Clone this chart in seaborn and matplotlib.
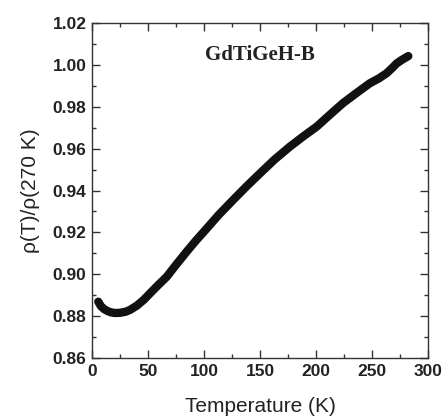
import matplotlib
matplotlib.use("Agg")
import matplotlib.pyplot as plt
import seaborn as sns
import pandas as pd
from matplotlib.ticker import MultipleLocator

sns.set_style("ticks")
plt.rcParams['font.family'] = ['Liberation Sans', 'DejaVu Sans']

temperature = [5.6, 8, 11, 14, 17, 20.5, 25, 30, 34, 40, 46, 52, 59, 66.7, 75, 84.5,
               93, 101, 113, 126, 138, 150, 163, 176.8, 189, 200.6, 212, 224,
               236, 248, 256, 263, 268, 272, 277, 282.4]
rho_ratio = [0.8869, 0.8847, 0.8833, 0.8824, 0.8818, 0.8815, 0.8816, 0.8821, 0.8830,
             0.8850, 0.8877, 0.8910, 0.8948, 0.8988, 0.9045, 0.9108, 0.9162, 0.9210,
             0.9283, 0.9355, 0.9420, 0.9482, 0.9548, 0.9610, 0.9660, 0.9705, 0.9760,
             0.9817, 0.9865, 0.9912, 0.9935, 0.9960, 0.9985, 1.0007, 1.0025, 1.0042]

df = pd.DataFrame({"T": temperature, "rho": rho_ratio})

fig = plt.figure(figsize=(4.43, 4.18), dpi=100)
ax = fig.add_axes([0.2077, 0.1435, 0.7585, 0.8015])
sns.lineplot(data=df, x="T", y="rho", ax=ax, color="#111111", linewidth=6,
             solid_capstyle="round", solid_joinstyle="round")

ax.set_xlim(0, 300)
ax.set_ylim(0.86, 1.02)
ax.xaxis.set_major_locator(MultipleLocator(50))
ax.xaxis.set_minor_locator(MultipleLocator(25))
ax.yaxis.set_minor_locator(MultipleLocator(0.01))
ax.set_yticks([0.86, 0.88, 0.90, 0.92, 0.94, 0.96, 0.98, 1.00, 1.02])
ax.set_yticklabels(["0.86", "0.88", "0.90", "0.92", "0.94", "0.96", "0.98", "1.00", "1.02"])
ax.tick_params(which="both", direction="in", top=True, right=True, color="#333333")
ax.tick_params(which="major", length=6, width=1.0, labelsize=12.5, pad=4)
ax.tick_params(which="minor", length=3, width=1.0)
for lab in ax.get_xticklabels() + ax.get_yticklabels():
    lab.set_fontweight("bold")
    lab.set_color("#222222")
for sp in ax.spines.values():
    sp.set_linewidth(1.0)
    sp.set_color("#333333")

ax.set_xlabel("Temperature (K)", fontsize=15, color="#222222", labelpad=13)
ax.set_ylabel("ρ(T)/ρ(270 K)", fontsize=15, color="#222222", labelpad=9)
ax.text(0.5, 0.905, "GdTiGeH-B", transform=ax.transAxes, ha="center", va="center",
        fontsize=15, fontweight="bold", family=["Liberation Serif", "DejaVu Serif"],
        color="#222222")

fig.savefig("out.png", dpi=100)
